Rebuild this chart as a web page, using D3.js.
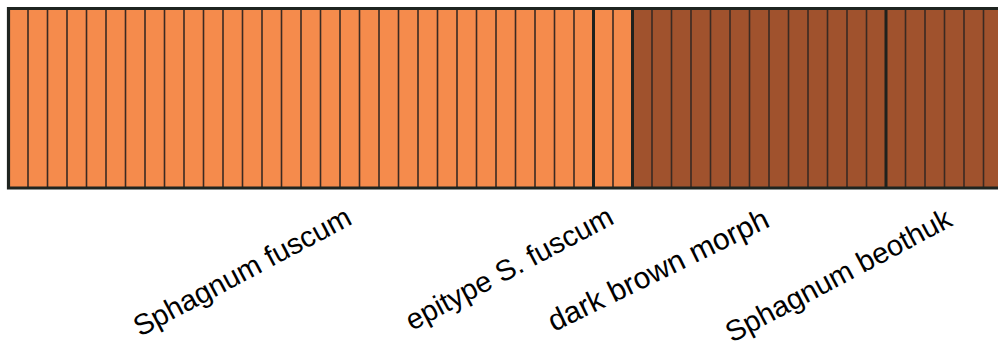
<!DOCTYPE html>
<html>
<head>
<meta charset="utf-8">
<script src="https://cdn.jsdelivr.net/npm/d3@7"></script>
<style>
html,body{margin:0;padding:0;background:#fff;overflow:hidden;}
svg{display:block;}
</style>
</head>
<body>
<svg id="chart" width="998" height="359"></svg>
<script>
// ---- data ----
const groups = ["Sphagnum fuscum", "epitype S. fuscum", "dark brown morph", "Sphagnum beothuk"];
const groupSizes = [30, 2, 13, 6];
// membership coefficient in cluster 1 (orange) for each individual
const cluster1 = [
  1,1,1,1,1,1,1,1,1,1, 1,1,1,1,1,1,1,1,1,1, 1,1,1,1,1,1,1,1,1,1,
  1,1,
  0,0,0,0,0,0,0,0,0,0,0,0,0,
  0,0,0,0,0,0
];
// membership coefficient in cluster 2 (brown)
const cluster2 = [
  0,0,0,0,0,0,0,0,0,0, 0,0,0,0,0,0,0,0,0,0, 0,0,0,0,0,0,0,0,0,0,
  0,0,
  1,1,1,1,1,1,1,1,1,1,1,1,1,
  1,1,1,1,1,1
];
const clusterKeys = ["c1", "c2"];

// ---- layout ----
const svg = d3.select("#chart");
const plotL = 8.5, plotT = 8.5, plotB = 188, barW = 19.5;
const n = cluster1.length;
const rows = cluster1.map((v, i) => ({ id: i, c1: v, c2: cluster2[i] }));

const x = d3.scaleBand().domain(d3.range(n)).range([plotL, plotL + n * barW]).paddingInner(0).paddingOuter(0);
const y = d3.scaleLinear().domain([0, 1]).range([plotB, plotT]);
const color = d3.scaleOrdinal().domain(clusterKeys).range(["#F58B4C", "#A0522D"]);

const stacked = d3.stack().keys(clusterKeys)(rows);

svg.append("g").selectAll("g").data(stacked).join("g")
  .attr("fill", d => color(d.key))
  .selectAll("rect").data(d => d).join("rect")
  .attr("x", d => x(d.data.id))
  .attr("width", x.bandwidth() + 0.5)
  .attr("y", d => y(d[1]))
  .attr("height", d => y(d[0]) - y(d[1]));

// group boundaries
const bounds = [];
let acc = 0;
groupSizes.forEach(s => { acc += s; bounds.push(acc); });

// thin individual dividers
const dividers = d3.range(1, n).filter(i => !bounds.includes(i));
svg.append("g").selectAll("line").data(dividers).join("line")
  .attr("x1", i => x(i)).attr("x2", i => x(i))
  .attr("y1", plotT).attr("y2", plotB)
  .attr("stroke", "#3a2a22").attr("stroke-width", 1.6);

// thick group dividers
svg.append("g").selectAll("line").data(bounds.filter(b => b < n)).join("line")
  .attr("x1", i => x(i)).attr("x2", i => x(i))
  .attr("y1", plotT).attr("y2", plotB)
  .attr("stroke", "#1f211d").attr("stroke-width", 3);

// outer frame (top, left, bottom)
const plotR = x(n - 1) + x.bandwidth();
svg.append("path")
  .attr("d", `M${plotR},${plotT}H${plotL}V${plotB}H${plotR}`)
  .attr("fill", "none").attr("stroke", "#1f2420").attr("stroke-width", 3.2);

// group labels (rotated, hand-placed as in the figure)
const labelLayout = [
  { x: 140, y: 337, angle: -28, size: 29 },
  { x: 412, y: 331, angle: -28, size: 29 },
  { x: 554, y: 332, angle: -26, size: 30 },
  { x: 732, y: 343, angle: -28, size: 29 }
];
svg.append("g").selectAll("text").data(groups).join("text")
  .attr("transform", (d, i) => `translate(${labelLayout[i].x},${labelLayout[i].y}) rotate(${labelLayout[i].angle})`)
  .attr("font-family", "'Liberation Sans', Arial, sans-serif")
  .attr("font-size", (d, i) => labelLayout[i].size)
  .attr("fill", "#000")
  .text(d => d);
</script>
</body>
</html>
